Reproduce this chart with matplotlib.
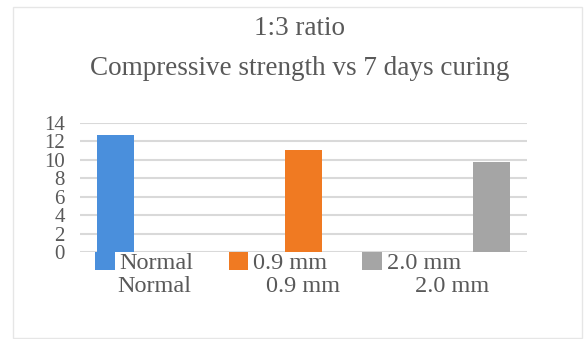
import matplotlib.pyplot as plt
import numpy as np
from matplotlib.patches import Rectangle

categories = ["Normal", "0.9 mm", "2.0 mm"]
series_names = ["Normal", "0.9 mm", "2.0 mm"]
# each series only has a value in its own category
values = [12.7, 11.1, 9.8]
colors = ["#4a8fdc", "#f07a22", "#a5a5a5"]
y_ticks = [0, 2, 4, 6, 8, 10, 12, 14]

text_color = "#595959"
plt.rcParams['font.family'] = ['Liberation Serif', 'DejaVu Serif']

W, H = 586, 339
fig = plt.figure(figsize=(W / 100, H / 100), dpi=100)
fig.patch.set_facecolor("white")

# faint chart border
fig.add_artist(Rectangle((13 / W, 1 - 338 / H), (582 - 13) / W, (338 - 7) / H,
                         transform=fig.transFigure, fill=False,
                         edgecolor="#e6e6e6", linewidth=1))

ax = fig.add_axes([80 / W, 1 - 252 / H, (527 - 80) / W, (252 - 123) / H])

x = np.arange(len(categories))
bar_w = 0.25
for i, (name, val, col) in enumerate(zip(series_names, values, colors)):
    ax.bar(x[i] + (i - 1) * 0.26, val, width=bar_w, color=col, label=name, zorder=3)

ax.set_xlim(-0.5, 2.5)
ax.set_ylim(0, 14)
ax.set_yticks(y_ticks)
ax.set_yticklabels([str(t) for t in y_ticks], fontsize=15, color=text_color)
ax.set_xticks(x)
ax.set_xticklabels(categories, fontsize=17.5, color=text_color)
ax.tick_params(axis='y', length=0, pad=11)
ax.tick_params(axis='x', length=0, pad=17)
ax.grid(axis='y', color="#d9d9d9", linewidth=1.5, zorder=0)
for s in ax.spines.values():
    s.set_visible(False)

fig.text(300 / W, 1 - 35 / H, "1:3 ratio", ha='center', va='baseline',
         fontsize=19.5, color=text_color)
fig.text(300 / W, 1 - 75 / H, "Compressive strength vs 7 days curing",
         ha='center', va='baseline', fontsize=19.5, color=text_color)

fig.legend(loc='center', bbox_to_anchor=(278 / W, 1 - 263 / H), ncol=3,
           frameon=False, fontsize=17.5, labelcolor=text_color,
           handlelength=0.8, handleheight=0.8, handletextpad=0.2,
           columnspacing=1.45, borderpad=0)

fig.savefig("out.png", dpi=100)
